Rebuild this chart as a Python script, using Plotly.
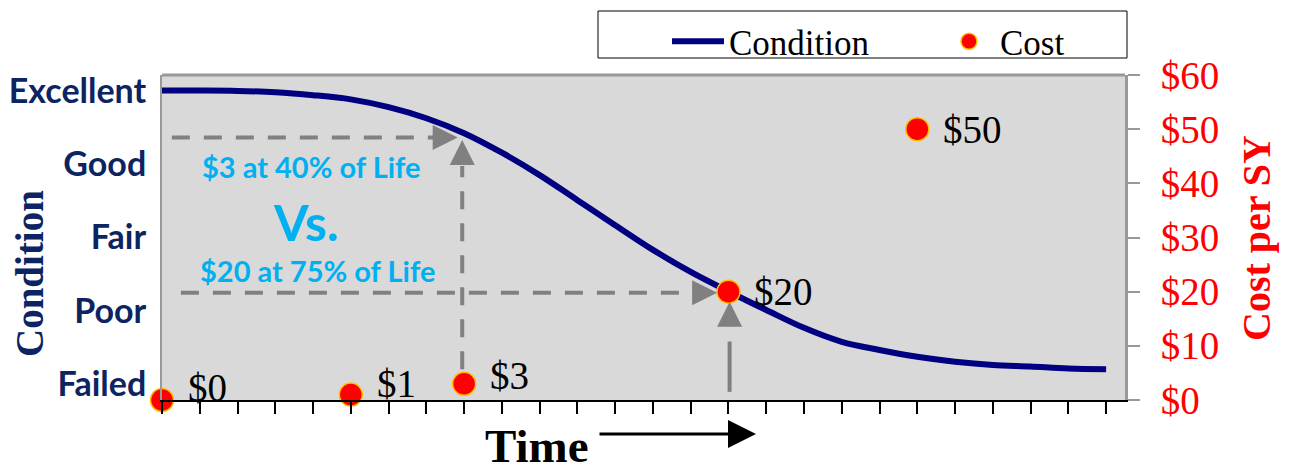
import plotly.graph_objects as go

# ---- data ----
time_steps = list(range(26))
condition = [95.2, 95.2, 95.1, 94.7, 93.8, 92.5, 90.1, 86.7, 82.1, 76.1, 69.2, 61.5, 53.8,
             46.2, 39.4, 33.4, 27.7, 22.2, 17.9, 15.4, 13.3, 11.8, 10.8, 10.3, 9.7, 9.5]
cost_time = [0, 5, 8, 15, 20]
cost_values = [0, 1, 3, 20, 50]
cost_labels = ["$0", "$1", "$3", "$20", "$50"]
cost_label_lift = [13, 11, 8, 0, 0]
cond_tickvals = [5, 27.5, 50, 72.5, 95]
cond_ticktext = ["Failed", "Poor", "Fair", "Good", "Excellent"]
cost_tickvals = [0, 10, 20, 30, 40, 50, 60]
cost_ticktext = ["$0", "$10", "$20", "$30", "$40", "$50", "$60"]

NAVY = "#000080"
LABEL_NAVY = "#0C2461"
GRAY = "#808080"
BLUE = "#00B0F0"
SERIF = "Liberation Serif"
SANS = "Lato"

# page offset of the plotly div (default body margin)
OFF = 8
# plot area in page pixels (for paper-positioned decorations)
L, R, T, B = 162, 1125, 75, 400
PW, PH = R - L, B - T
FIG_W, FIG_H = 1290 - OFF, 468 - OFF


def px(xp):
    return (xp - L) / PW


def py(yp):
    return (B - yp) / PH


fig = go.Figure()
fig.add_trace(go.Scatter(
    x=time_steps, y=condition, mode="lines", name="Condition",
    line=dict(color=NAVY, width=6, shape="spline", smoothing=1.0),
    yaxis="y", cliponaxis=False))
fig.add_trace(go.Scatter(
    x=cost_time, y=cost_values, mode="markers", name="Cost",
    marker=dict(color="#FF0000", size=23, line=dict(color="#FFC000", width=1.5)),
    yaxis="y2", cliponaxis=False))

shapes = []
annotations = []

# dashed guide lines (condition axis units)
dash = "18px,14px"
shapes.append(dict(type="line", xref="x", yref="y", x0=0.26, x1=7.2, y0=80.8, y1=80.8,
                   line=dict(color=GRAY, width=4, dash=dash)))
shapes.append(dict(type="line", xref="x", yref="y", x0=7.95, x1=7.95, y0=9.5, y1=72,
                   line=dict(color=GRAY, width=4, dash=dash)))
shapes.append(dict(type="line", xref="x", yref="y", x0=0.5, x1=14.05, y0=33.0, y1=33.0,
                   line=dict(color=GRAY, width=4, dash=dash)))
shapes.append(dict(type="line", xref="x", yref="y", x0=15.03, x1=15.03, y0=2.5, y1=18.0,
                   line=dict(color=GRAY, width=4)))
# arrow heads
for (xt, yt, axp, ayp) in [(7.83, 80.8, -26, 0), (7.95, 80.0, 0, 26),
                           (14.7, 33.0, -26, 0), (15.03, 30.2, 0, 26)]:
    annotations.append(dict(x=xt, y=yt, xref="x", yref="y", ax=axp, ay=ayp,
                            axref="pixel", ayref="pixel", text="", showarrow=True,
                            arrowhead=2, arrowsize=1.25, arrowwidth=4, arrowcolor=GRAY,
                            standoff=0))

# cost labels
for xv, cv, lab, lift in zip(cost_time, cost_values, cost_labels, cost_label_lift):
    annotations.append(dict(x=xv, y=cv, xref="x", yref="y2", text=lab, showarrow=False,
                            xanchor="left", yanchor="middle", xshift=24, yshift=lift,
                            font=dict(family=SERIF, size=39, color="black")))


def label(xp, yp, text, size, color, family, angle=0):
    return dict(x=px(xp), y=py(yp), xref="paper", yref="paper", text=text,
                showarrow=False, xanchor="center", yanchor="middle", textangle=angle,
                font=dict(family=family, size=size, color=color))


# blue comparison text
annotations += [
    label(311, 166, "<b>$3 at 40% of Life</b>", 29, BLUE, SANS),
    label(306, 222, "<b>Vs.</b>", 50, BLUE, SANS),
    label(317, 270, "<b>$20 at 75% of Life</b>", 29, BLUE, SANS),
]

# axis titles
annotations += [
    label(29, 274, "<b>Condition</b>", 39, LABEL_NAVY, SERIF, -90),
    label(1257, 238, "<b>Cost per SY</b>", 40, "#FF0000", SERIF, -90),
    label(537, 446, "<b>Time</b>", 47, "black", SERIF),
    dict(x=px(756), y=py(434), xref="paper", yref="paper",
         ax=-158, ay=0, axref="pixel", ayref="pixel", text="", showarrow=True,
         arrowhead=2, arrowsize=2.0, arrowwidth=2.8, arrowcolor="black", standoff=0),
]

# top border of plot & legend box
shapes.append(dict(type="line", xref="paper", yref="paper", x0=0, x1=1, y0=1, y1=1,
                   line=dict(color="#999999", width=3)))
shapes.append(dict(type="rect", xref="paper", yref="paper",
                   x0=px(598), x1=px(1127), y0=py(58), y1=py(11),
                   line=dict(color="black", width=1), fillcolor="white", layer="below"))

fig.update_layout(
    width=FIG_W, height=FIG_H,
    margin=dict(l=L - OFF, r=FIG_W - (R - OFF), t=T - OFF, b=FIG_H - (B - OFF),
                autoexpand=False),
    paper_bgcolor="white", plot_bgcolor="#D9D9D9",
    showlegend=True,
    legend=dict(orientation="h", x=px(667), y=py(12),
                xanchor="left", yanchor="top", bgcolor="rgba(0,0,0,0)",
                borderwidth=0, font=dict(family=SERIF, size=35, color="black"),
                itemwidth=52, entrywidth=204, entrywidthmode="pixels"),
    xaxis=dict(range=[0, 25.5], tick0=0, dtick=1, ticks="outside", ticklen=12,
               tickwidth=1.5, tickcolor="black", showticklabels=False,
               showline=True, linecolor="black", linewidth=2, showgrid=False,
               zeroline=False, fixedrange=True, automargin=False),
    yaxis=dict(range=[0, 100], tickvals=cond_tickvals, ticktext=cond_ticktext,
               ticks="", showline=True, linecolor="#999999", linewidth=2,
               showgrid=False, zeroline=False, ticklabelstandoff=7, automargin=False,
               tickfont=dict(family=SANS, size=34, color=LABEL_NAVY, weight="bold")),
    yaxis2=dict(range=[0, 60], tickvals=cost_tickvals, ticktext=cost_ticktext,
                overlaying="y", side="right", ticks="outside", ticklen=12, tickwidth=2,
                tickcolor="#999999", showline=True, linecolor="#999999", linewidth=3,
                showgrid=False, zeroline=False, ticklabelstandoff=13, automargin=False,
                tickfont=dict(family=SERIF, size=39, color="#FF0000")),
    shapes=shapes, annotations=annotations,
)

fig.write_html("out.html")
